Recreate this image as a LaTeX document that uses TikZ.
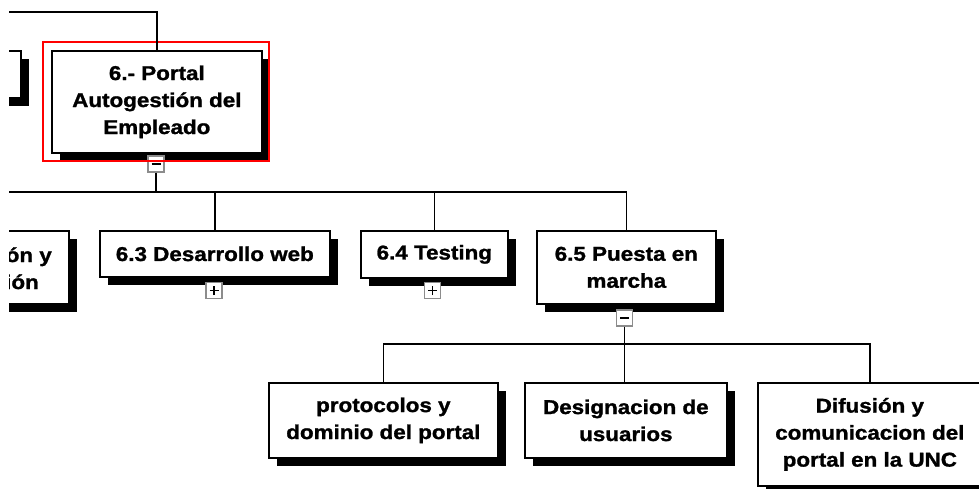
\documentclass[tikz,border=0pt]{standalone}
\usepackage{fontspec}
\newfontfamily\boxfont[FakeStretch=1.12,FakeBold=1.3]{Liberation Sans}
\usetikzlibrary{shadows}
\begin{document}
\begin{tikzpicture}[x=1pt,y=-1pt,
  every node/.style={font={\boxfont\bfseries\fontsize{20}{27}\selectfont}},
  wbs/.style={draw=black, line width=1.7pt, fill=white, inner sep=0pt,
    anchor=north west, align=center,
    general shadow={fill=black, shadow xshift=8pt, shadow yshift=-8pt}},
  conn/.style={draw=black, line width=1.7pt},
  tog/.style={draw=black!45, line width=1.2pt, fill=white, minimum size=16pt, inner sep=0pt},
  togminus/.style={tog, path picture={\draw[black, line width=1.8pt]
    ([xshift=-4.5pt]path picture bounding box.center) -- ([xshift=4.5pt]path picture bounding box.center);}},
  togplus/.style={tog, path picture={\draw[black, line width=1.8pt]
    ([xshift=-4.5pt]path picture bounding box.center) -- ([xshift=4.5pt]path picture bounding box.center)
    ([yshift=-4.5pt]path picture bounding box.center) -- ([yshift=4.5pt]path picture bounding box.center);}},
  txt/.style={inner sep=0pt, anchor=base east}
]
\useasboundingbox (0,0) rectangle (979,489);
\clip (9,0) rectangle (979,489);

% boxes
\node[wbs, anchor=north east, minimum width=150pt, minimum height=47pt] (b61) at (22,50) {};
\node[wbs, minimum width=210pt, minimum height=102pt] (main) at (51,50) {6.- Portal\\Autogestión del\\Empleado};
\node[wbs, anchor=north east, minimum width=230pt, minimum height=73pt] (b62) at (70,230) {};
\node[txt] (t62a) at (52,262) {ón y};
\node[txt] (t62b) at (39,289) {ión};
\node[wbs, minimum width=230pt, minimum height=46pt] (b63) at (99,230) {6.3 Desarrollo web};
\node[wbs, minimum width=147pt, minimum height=47pt] (b64) at (360,230) {6.4 Testing};
\node[wbs, minimum width=179pt, minimum height=73pt] (b65) at (536,230) {6.5 Puesta en\\marcha};
\node[wbs, minimum width=229pt, minimum height=75pt] (p1) at (268,382) {protocolos y\\dominio del portal};
\node[wbs, minimum width=202pt, minimum height=75pt] (p2) at (524,382) {Designacion de\\usuarios};
\node[wbs, minimum width=224pt, minimum height=103pt] (p3) at (757,382) {Difusión y\\comunicacion del\\portal en la UNC};

% toggles
\node[togminus] (tm) at (156,164) {};
\node[togplus] (t63) at (214,290.5) {};
\node[togplus] (t64) at (432.5,290.5) {};
\node[togminus] (t65) at (624.5,318) {};

% highlight
\draw[red, line width=1.5pt] (43,42) rectangle (269,161);

% connectors
\coordinate (top0) at (9,12);
\draw[conn] (top0) -| (main.north);
\coordinate (busA) at (9,192);
\draw[conn] (busA) -| (b65.north);
\draw[conn] (tm.south) -- (tm.south |- busA);
\draw[conn] (b63.north) -- (b63.north |- busA);
\draw[conn] (b64.north) -- (b64.north |- busA);
\coordinate (busB) at (0,344);
\draw[conn] (p1.north) |- (p3.north |- busB) -- (p3.north);
\draw[conn] (t65.south) -- (t65.south |- p2.north);
\end{tikzpicture}
\end{document}
